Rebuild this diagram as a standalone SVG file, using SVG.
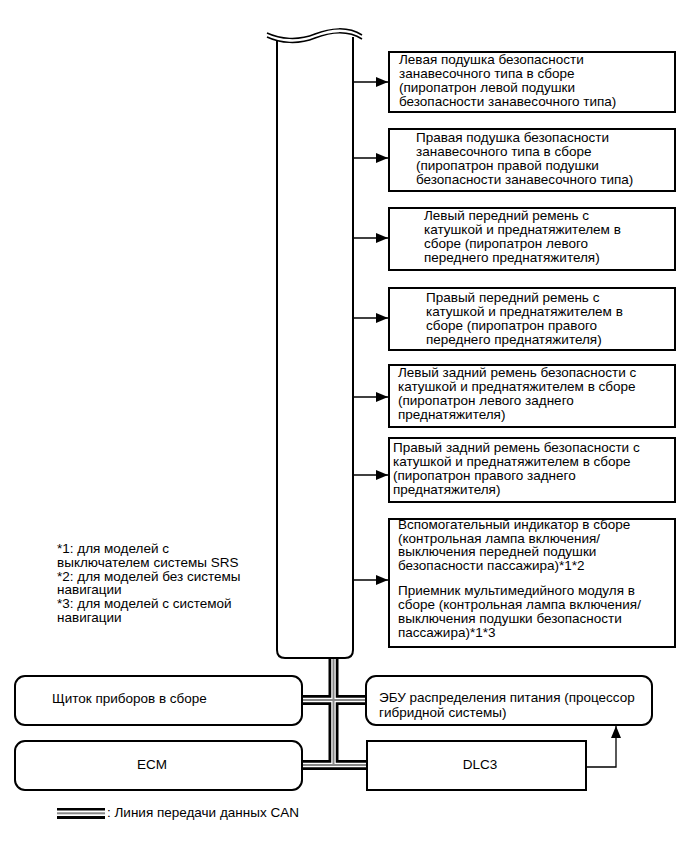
<svg xmlns="http://www.w3.org/2000/svg" width="691" height="855" viewBox="0 0 691 855">
<style>
text{font-family:"Liberation Sans",Arial,sans-serif;font-size:13.5px;fill:#000}
.box{fill:#fff;stroke:#000;stroke-width:2}
.ln{fill:none;stroke:#000;stroke-width:1.3}
.busO{fill:none;stroke:#000;stroke-width:10}
.busW{fill:none;stroke:#fff;stroke-width:4.5}
.busG{fill:none;stroke:#888;stroke-width:2}
</style>
<defs>
<marker id="ah" markerWidth="13" markerHeight="10" refX="12" refY="5" orient="auto" markerUnits="userSpaceOnUse">
<path d="M0,0 L12,5 L0,10 Z" fill="#000"/>
</marker>
</defs>
<g id="connectors">
<line class="ln" x1="353" y1="82" x2="388" y2="82" marker-end="url(#ah)"/>
<line class="ln" x1="353" y1="158" x2="388" y2="158" marker-end="url(#ah)"/>
<line class="ln" x1="353" y1="238" x2="388" y2="238" marker-end="url(#ah)"/>
<line class="ln" x1="353" y1="318" x2="388" y2="318" marker-end="url(#ah)"/>
<line class="ln" x1="353" y1="397" x2="388" y2="397" marker-end="url(#ah)"/>
<line class="ln" x1="353" y1="475" x2="388" y2="475" marker-end="url(#ah)"/>
<line class="ln" x1="353" y1="580" x2="388" y2="580" marker-end="url(#ah)"/>
<polyline class="ln" points="586,767 616,767 616,726" marker-end="url(#ah)"/>
<g id="can-bus">
<path class="busO" d="M333.5,657 V765 M302,700 H366 M302,765 H367"/>
<path class="busW" d="M333.5,657 V765 M302,700 H366 M302,765 H367"/>
<path class="busG" d="M333.5,657 V765 M302,700 H366 M302,765 H367"/>
</g>
</g>
<g id="srs-airbag-sensor">
<path class="box" d="M277,40 V650 Q277,658 285,658 H345 Q353,658 353,650 V37"/>
<path fill="none" stroke="#000" stroke-width="1.5" d="M267,33 C280,39 298,41 315,34 C330,28 348,26 362,35"/>
<path fill="none" stroke="#000" stroke-width="1.5" d="M267,37 C280,43 298,45 315,38 C330,32 348,30 362,39"/>
</g>
<g id="curtain-left">
<rect class="box" x="389" y="52" width="286" height="60"/>
<text x="399" y="63.5">Левая подушка безопасности</text>
<text x="399" y="77.5">занавесочного типа в сборе</text>
<text x="399" y="91.5">(пиропатрон левой подушки</text>
<text x="399" y="105.5">безопасности занавесочного типа)</text>
</g>
<g id="curtain-right">
<rect class="box" x="389" y="129" width="286" height="62"/>
<text x="416" y="142">Правая подушка безопасности</text>
<text x="416" y="156">занавесочного типа в сборе</text>
<text x="416" y="170">(пиропатрон правой подушки</text>
<text x="416" y="184">безопасности занавесочного типа)</text>
</g>
<g id="front-belt-left">
<rect class="box" x="389" y="208" width="286" height="62"/>
<text x="424" y="219.5">Левый передний ремень с</text>
<text x="424" y="233.5">катушкой и преднатяжителем в</text>
<text x="424" y="247.5">сборе (пиропатрон левого</text>
<text x="424" y="261.5">переднего преднатяжителя)</text>
</g>
<g id="front-belt-right">
<rect class="box" x="389" y="288" width="286" height="62"/>
<text x="426" y="301.5">Правый передний ремень с</text>
<text x="426" y="315.5">катушкой и преднатяжителем в</text>
<text x="426" y="329.5">сборе (пиропатрон правого</text>
<text x="426" y="343.5">переднего преднатяжителя)</text>
</g>
<g id="rear-belt-left">
<rect class="box" x="389" y="365" width="286" height="62"/>
<text x="398" y="376.5">Левый задний ремень безопасности с</text>
<text x="398" y="390.5">катушкой и преднатяжителем в сборе</text>
<text x="398" y="404.5">(пиропатрон левого заднего</text>
<text x="398" y="418.5">преднатяжителя)</text>
</g>
<g id="rear-belt-right">
<rect class="box" x="389" y="438" width="286" height="64"/>
<text x="393" y="451.5">Правый задний ремень безопасности с</text>
<text x="393" y="465.5">катушкой и преднатяжителем в сборе</text>
<text x="393" y="479.5">(пиропатрон правого заднего</text>
<text x="393" y="493.5">преднатяжителя)</text>
</g>
<g id="indicator">
<rect class="box" x="389" y="519" width="286" height="128"/>
<text x="398" y="528.5">Вспомогательный индикатор в сборе</text>
<text x="398" y="542.5">(контрольная лампа включения/</text>
<text x="398" y="556">выключения передней подушки</text>
<text x="398" y="570">безопасности пассажира)*1*2</text>
<text x="398" y="594.5">Приемник мультимедийного модуля в</text>
<text x="398" y="608.5">сборе (контрольная лампа включения/</text>
<text x="398" y="622.5">выключения подушки безопасности</text>
<text x="398" y="636.5">пассажира)*1*3</text>
</g>
<g id="notes">
<text x="57" y="552.5">*1: для моделей с</text>
<text x="57" y="566.5">выключателем системы SRS</text>
<text x="57" y="580.5">*2: для моделей без системы</text>
<text x="57" y="594">навигации</text>
<text x="57" y="608">*3: для моделей с системой</text>
<text x="57" y="622">навигации</text>
</g>
<g id="combination-meter">
<rect class="box" x="15" y="676" width="287" height="49" rx="10"/>
<text x="52" y="703">Щиток приборов в сборе</text>
</g>
<g id="power-ecu">
<rect class="box" x="366" y="676" width="286" height="49" rx="10"/>
<text x="379" y="701.5">ЭБУ распределения питания (процессор</text>
<text x="379" y="716.5">гибридной системы)</text>
</g>
<g id="ecm">
<rect class="box" x="15" y="741" width="287" height="49" rx="10"/>
<text x="152" y="769" text-anchor="middle">ECM</text>
</g>
<g id="dlc3">
<rect class="box" x="367" y="741" width="219" height="49"/>
<text x="480" y="769" text-anchor="middle">DLC3</text>
</g>
<g id="legend">
<rect x="57" y="808" width="48" height="11" fill="#000"/>
<rect x="57" y="810.5" width="48" height="5.5" fill="#fff"/>
<rect x="57" y="812.3" width="48" height="2" fill="#888"/>
<text x="107" y="817">: Линия передачи данных CAN</text>
</g>
</svg>
